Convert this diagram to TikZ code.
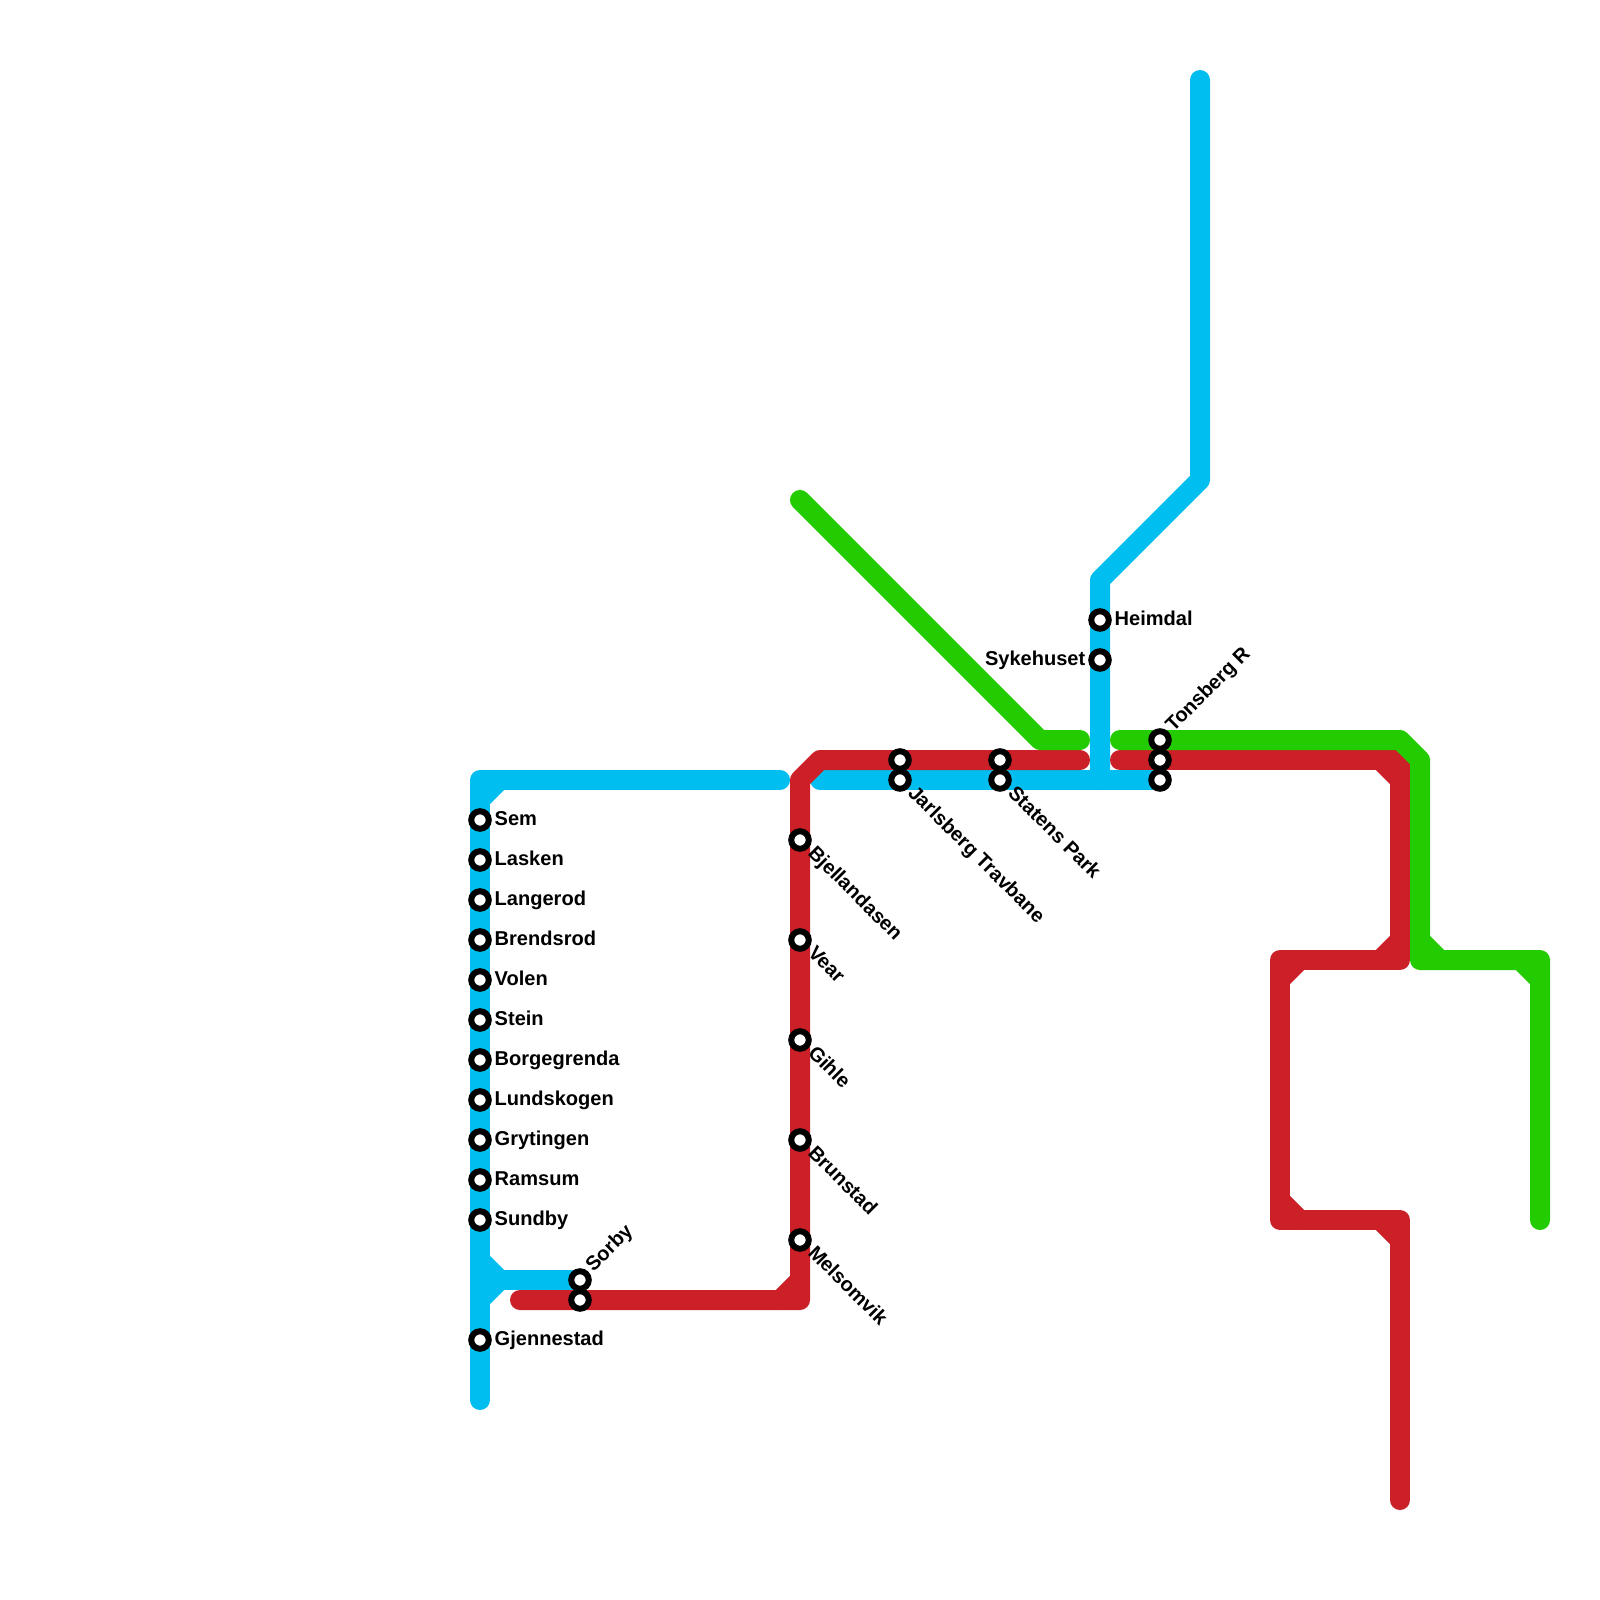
\documentclass[tikz,border=0pt]{standalone}
\usepackage{fontspec}
\setmainfont{Liberation Sans}
\usetikzlibrary{positioning}
\definecolor{lineblue}{RGB}{0,190,240}
\definecolor{linered}{RGB}{204,32,40}
\definecolor{linegreen}{RGB}{34,204,0}

\begin{document}
\begin{tikzpicture}[
    x=0.01cm, y=-0.01cm,
    metroline/.style={line width=0.2cm, line cap=round, line join=round},
    blueline/.style={metroline, draw=lineblue},
    redline/.style={metroline, draw=linered},
    greenline/.style={metroline, draw=linegreen},
    stn/.style={circle, draw=black, line width=0.6mm, fill=white,
        inner sep=0pt, minimum size=1.75mm},
    lbl/.style={font=\bfseries\fontsize{5.7}{7}\selectfont, inner sep=0pt},
    lblright/.style={lbl, anchor=base west},
    lblleft/.style={lbl, anchor=base east},
    lbldown/.style={lbl, anchor=base west, rotate=-45},
    lblup/.style={lbl, anchor=base west, rotate=45}
]
\useasboundingbox (0,0) rectangle (1600,1600);
% line ends and bends
\coordinate (blueSouth) at (480,1400);
\coordinate (blueCorner) at (480,780);
\coordinate (blueEnd) at (780,780);
\coordinate (blueFork) at (480,1280);
\coordinate (blueSorby) at (580,1280);
\coordinate (blueWest) at (820,780);
\coordinate (blueEast) at (1160,780);
\coordinate (blueT) at (1100,780);
\coordinate (blueBendA) at (1100,580);
\coordinate (blueBendB) at (1200,480);
\coordinate (blueNorth) at (1200,80);
\coordinate (redWest) at (520,1300);
\coordinate (redCornerA) at (800,1300);
\coordinate (redCornerB) at (800,780);
\coordinate (redCornerC) at (820,760);
\coordinate (redGapW) at (1080,760);
\coordinate (redGapE) at (1120,760);
\coordinate (redCornerD) at (1400,760);
\coordinate (redCornerE) at (1400,960);
\coordinate (redCornerF) at (1280,960);
\coordinate (redCornerG) at (1280,1220);
\coordinate (redCornerH) at (1400,1220);
\coordinate (redSouth) at (1400,1500);
\coordinate (greenNorth) at (800,500);
\coordinate (greenBend) at (1040,740);
\coordinate (greenGapW) at (1080,740);
\coordinate (greenGapE) at (1120,740);
\coordinate (greenBendA) at (1400,740);
\coordinate (greenBendB) at (1420,760);
\coordinate (greenBendC) at (1420,960);
\coordinate (greenBendD) at (1540,960);
\coordinate (greenSouth) at (1540,1220);
% blue line
\draw[blueline] (blueEnd) -- (blueCorner) -- (blueSouth);
\draw[blueline] (blueFork) -- (blueSorby);
\draw[blueline] (blueWest) -- (blueEast);
\draw[blueline] (blueT) -- (blueBendA) -- (blueBendB) -- (blueNorth);
\draw[blueline] (480,800) -- (500,780);
\draw[blueline] (480,1260) -- (500,1280) -- (480,1300);
% red line
\draw[redline] (redWest) -- (redCornerA) -- (redCornerB) -- (redCornerC) -- (redGapW);
\draw[redline] (redGapE) -- (redCornerD) -- (redCornerE) -- (redCornerF)
    -- (redCornerG) -- (redCornerH) -- (redSouth);
\draw[redline] (780,1300) -- (800,1280);
\draw[redline] (1380,760) -- (1400,780);
\draw[redline] (1380,960) -- (1400,940);
\draw[redline] (1280,980) -- (1300,960);
\draw[redline] (1280,1200) -- (1300,1220);
\draw[redline] (1380,1220) -- (1400,1240);
% green line
\draw[greenline] (greenNorth) -- (greenBend) -- (greenGapW);
\draw[greenline] (greenGapE) -- (greenBendA) -- (greenBendB) -- (greenBendC)
    -- (greenBendD) -- (greenSouth);
\draw[greenline] (1420,940) -- (1440,960);
\draw[greenline] (1520,960) -- (1540,980);
% stations on the left column
\node[stn] (sem) at (480,820) {};
\node[lblright] (semL) at (494,825.5) {Sem};
\node[stn] (lasken) at (480,860) {};
\node[lblright] (laskenL) at (494,865.5) {Lasken};
\node[stn] (langerod) at (480,900) {};
\node[lblright] (langerodL) at (494,905.5) {Langerod};
\node[stn] (brendsrod) at (480,940) {};
\node[lblright] (brendsrodL) at (494,945.5) {Brendsrod};
\node[stn] (volen) at (480,980) {};
\node[lblright] (volenL) at (494,985.5) {Volen};
\node[stn] (stein) at (480,1020) {};
\node[lblright] (steinL) at (494,1025.5) {Stein};
\node[stn] (borgegrenda) at (480,1060) {};
\node[lblright] (borgegrendaL) at (494,1065.5) {Borgegrenda};
\node[stn] (lundskogen) at (480,1100) {};
\node[lblright] (lundskogenL) at (494,1105.5) {Lundskogen};
\node[stn] (grytingen) at (480,1140) {};
\node[lblright] (grytingenL) at (494,1145.5) {Grytingen};
\node[stn] (ramsum) at (480,1180) {};
\node[lblright] (ramsumL) at (494,1185.5) {Ramsum};
\node[stn] (sundby) at (480,1220) {};
\node[lblright] (sundbyL) at (494,1225.5) {Sundby};
\node[stn] (gjennestad) at (480,1340) {};
\node[lblright] (gjennestadL) at (494,1345.5) {Gjennestad};
% Sorby pair
\node[stn] (sorbyA) at (580,1280) {};
\node[stn] (sorbyB) at (580,1300) {};
\node[lblup] (sorbyL) at (593,1273) {Sorby};
% stations on the red column
\node[stn] (bjellandasen) at (800,840) {};
\node[lbldown] (bjellandasenL) at (806.5,853.5) {Bjellandasen};
\node[stn] (vear) at (800,940) {};
\node[lbldown] (vearL) at (806.5,953.5) {Vear};
\node[stn] (gihle) at (800,1040) {};
\node[lbldown] (gihleL) at (806.5,1053.5) {Gihle};
\node[stn] (brunstad) at (800,1140) {};
\node[lbldown] (brunstadL) at (806.5,1153.5) {Brunstad};
\node[stn] (melsomvik) at (800,1240) {};
\node[lbldown] (melsomvikL) at (806.5,1253.5) {Melsomvik};
% stations on the shared stretch
\node[stn] (jarlsbergA) at (900,760) {};
\node[stn] (jarlsbergB) at (900,780) {};
\node[lbldown] (jarlsbergL) at (906.5,793.5) {Jarlsberg Travbane};
\node[stn] (statensA) at (1000,760) {};
\node[stn] (statensB) at (1000,780) {};
\node[lbldown] (statensL) at (1006.5,793.5) {Statens Park};
\node[stn] (heimdal) at (1100,620) {};
\node[lblright] (heimdalL) at (1114,625.5) {Heimdal};
\node[stn] (sykehuset) at (1100,660) {};
\node[lblleft] (sykehusetL) at (1086,665.5) {Sykehuset};
\node[stn] (tonsbergA) at (1160,740) {};
\node[stn] (tonsbergB) at (1160,760) {};
\node[stn] (tonsbergC) at (1160,780) {};
\node[lblup] (tonsbergL) at (1173,733) {Tonsberg R};
\end{tikzpicture}
\end{document}
